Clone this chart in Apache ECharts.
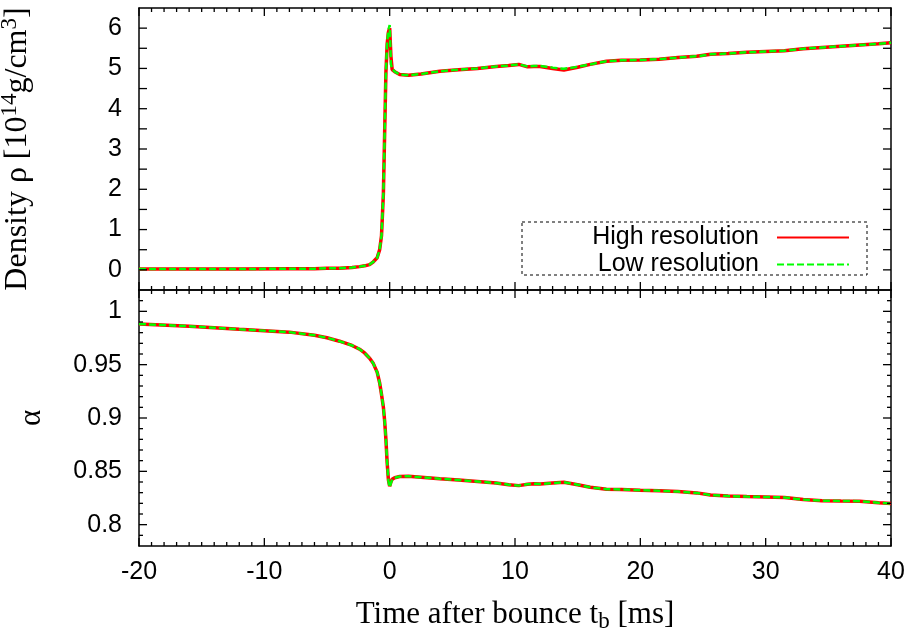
<!DOCTYPE html>
<html>
<head>
<meta charset="utf-8">
<script src="https://cdn.jsdelivr.net/npm/echarts@6/dist/echarts.min.js"></script>
<style>html,body{margin:0;padding:0;background:#fff;}#c{width:913px;height:635px;}</style>
</head>
<body>
<div id="c"></div>
<script>
const time = [-20, -16, -12, -8, -6, -5, -4, -3, -2.4, -2, -1.6, -1.3, -1.0, -0.8, -0.65, -0.5, -0.4, -0.3, -0.2, -0.1, 0, 0.1, 0.2, 0.4, 0.8, 1.5, 2.5, 4, 5.5, 7, 8.5, 9.5, 10.3, 11, 11.5, 12, 13, 13.9, 15, 16, 17.3, 18.5, 20, 21.5, 23, 24.5, 25.6, 27, 28.5, 30, 31.5, 33, 34.5, 36, 37.5, 39, 40];
const densityHigh = [0.02, 0.02, 0.02, 0.03, 0.03, 0.04, 0.04, 0.06, 0.08, 0.1, 0.13, 0.2, 0.3, 0.5, 0.85, 1.9, 3.4, 4.9, 5.6, 5.9, 6.0, 5.3, 4.97, 4.92, 4.85, 4.83, 4.86, 4.93, 4.97, 5.0, 5.05, 5.07, 5.1, 5.04, 5.05, 5.05, 5.0, 4.96, 5.03, 5.1, 5.18, 5.2, 5.21, 5.23, 5.27, 5.3, 5.35, 5.37, 5.4, 5.42, 5.44, 5.49, 5.52, 5.55, 5.58, 5.61, 5.64];
const densityLow = [0.02, 0.02, 0.02, 0.03, 0.03, 0.04, 0.04, 0.06, 0.08, 0.1, 0.13, 0.2, 0.3, 0.5, 0.85, 1.9, 3.4, 4.9, 5.65, 5.95, 6.08, 5.1, 5.0, 4.92, 4.85, 4.83, 4.86, 4.93, 4.97, 5.0, 5.05, 5.07, 5.1, 5.05, 5.06, 5.06, 5.02, 4.99, 5.04, 5.1, 5.18, 5.2, 5.21, 5.23, 5.27, 5.3, 5.35, 5.37, 5.4, 5.42, 5.44, 5.49, 5.52, 5.55, 5.58, 5.61, 5.64];
const alphaHigh = [0.9882, 0.986, 0.9832, 0.9805, 0.9775, 0.9752, 0.972, 0.968, 0.9645, 0.961, 0.956, 0.951, 0.943, 0.933, 0.922, 0.910, 0.897, 0.880, 0.858, 0.842, 0.836, 0.840, 0.8425, 0.844, 0.8452, 0.8455, 0.8445, 0.843, 0.8418, 0.8405, 0.839, 0.8375, 0.8366, 0.8378, 0.8383, 0.8382, 0.839, 0.8397, 0.8375, 0.835, 0.8333, 0.833, 0.8323, 0.8318, 0.831, 0.8298, 0.8278, 0.8268, 0.8263, 0.826, 0.8255, 0.8235, 0.8225, 0.8222, 0.822, 0.8205, 0.8198];
const alphaLow = [0.9882, 0.986, 0.9832, 0.9805, 0.9775, 0.9752, 0.972, 0.968, 0.9645, 0.961, 0.956, 0.951, 0.943, 0.933, 0.922, 0.910, 0.897, 0.880, 0.858, 0.841, 0.835, 0.839, 0.842, 0.844, 0.8452, 0.8455, 0.8445, 0.843, 0.8418, 0.8405, 0.839, 0.8375, 0.8366, 0.8378, 0.8383, 0.8382, 0.839, 0.8397, 0.8375, 0.835, 0.8333, 0.833, 0.8323, 0.8318, 0.831, 0.8298, 0.8278, 0.8268, 0.8263, 0.826, 0.8255, 0.8235, 0.8225, 0.8222, 0.822, 0.8205, 0.8198];
const xMajorTicks = [-20, -10, 0, 10, 20, 30, 40];
const xMinorTicks = [-19, -18, -17, -16, -15, -14, -13, -12, -11, -9, -8, -7, -6, -5, -4, -3, -2, -1, 1, 2, 3, 4, 5, 6, 7, 8, 9, 11, 12, 13, 14, 15, 16, 17, 18, 19, 21, 22, 23, 24, 25, 26, 27, 28, 29, 31, 32, 33, 34, 35, 36, 37, 38, 39];
const densityTicks = [0, 1, 2, 3, 4, 5, 6];
const densityTickMarks = [0, 0.5, 1, 1.5, 2, 2.5, 3, 3.5, 4, 4.5, 5, 5.5, 6];
const alphaTicks = [0.8, 0.85, 0.9, 0.95, 1];
const alphaMinorTicks = [0.79, 0.81, 0.82, 0.83, 0.84, 0.86, 0.87, 0.88, 0.89, 0.91, 0.92, 0.93, 0.94, 0.96, 0.97, 0.98, 0.99, 1.01];
const xRange = [-20, 40];
const densityRange = [-0.5, 6.5];
const alphaRange = [0.78, 1.02];
const seriesNames = ['High resolution', 'Low resolution'];

const SANS = '"Liberation Sans", Arial, sans-serif';
const SERIF = '"Liberation Serif", "Times New Roman", serif';
const pair = arr => time.map((t, i) => [t, arr[i]]);

function xAx(grid, pos, labels) {
  return {
    type: 'value', gridIndex: grid, position: pos, min: xRange[0], max: xRange[1], interval: 10,
    axisLine: { show: true, onZero: false, lineStyle: { color: '#000', width: 1.5 } },
    splitLine: { show: false }, axisTick: { show: false },
    axisLabel: { show: labels, color: '#000', fontFamily: SANS, fontSize: 25, margin: 14 }
  };
}
function yAx(grid, pos, range, labels) {
  return {
    type: 'value', gridIndex: grid, position: pos, min: range[0], max: range[1],
    axisLine: { show: true, onZero: false, lineStyle: { color: '#000', width: 1.5 } },
    splitLine: { show: false }, axisTick: { show: false },
    axisLabel: { show: !!labels, customValues: labels || [], color: '#000', fontFamily: SANS, fontSize: 25, margin: 17 }
  };
}

const yA = yAx(0, 'left', densityRange, densityTicks);
yA.name = '{a|Density ρ [10}{s|14}{a|g/cm}{s|3}{a|]}';
yA.nameLocation = 'middle';
yA.nameGap = 102;
yA.nameRotate = 90;
yA.nameTextStyle = { rich: {
  a: { fontFamily: SERIF, fontSize: 32, color: '#000' },
  s: { fontFamily: SERIF, fontSize: 23, color: '#000', padding: [0, 0, 16, 0] }
} };

const yB = yAx(1, 'left', alphaRange, alphaTicks);
yB.name = 'α';
yB.nameLocation = 'middle';
yB.nameGap = 92;
yB.nameRotate = 90;
yB.nameTextStyle = { fontFamily: SERIF, fontSize: 31, color: '#000' };

const xB = xAx(1, 'bottom', true);
xB.name = '{a|Time after bounce t}{b|b}{a| [ms]}';
xB.nameLocation = 'middle';
xB.nameGap = 50;
xB.nameTextStyle = { rich: {
  a: { fontFamily: SERIF, fontSize: 31, color: '#000' },
  b: { fontFamily: SERIF, fontSize: 23, color: '#000', padding: [14, 0, 0, 0] }
} };

const chart = echarts.init(document.getElementById('c'), null, { renderer: 'canvas' });
chart.setOption({
  backgroundColor: '#fff',
  animation: false,
  grid: [
    { left: 139, right: 22, top: 8, height: 282, outerBoundsMode: 'none' },
    { left: 139, right: 22, top: 290, height: 256, outerBoundsMode: 'none' }
  ],
  xAxis: [xAx(0, 'bottom', false), xAx(0, 'top', false), xAx(1, 'top', false), xB],
  yAxis: [yA, yAx(0, 'right', densityRange, null), yB, yAx(1, 'right', alphaRange, null)],
  legend: {
    data: seriesNames, orient: 'vertical', align: 'right', right: 58, top: 220,
    itemWidth: 72, itemHeight: 12, itemGap: 2,
    itemStyle: { opacity: 0 },
    textStyle: { fontFamily: SANS, fontSize: 25, color: '#000', padding: [0, 13, 0, 0] }
  },
  series: [
    { name: seriesNames[0], type: 'line', xAxisIndex: 0, yAxisIndex: 0, data: pair(densityHigh), symbol: 'none', lineStyle: { color: '#ff0000', width: 3.5 }, itemStyle: { color: '#ff0000' }, z: 3 },
    { name: seriesNames[1], type: 'line', xAxisIndex: 0, yAxisIndex: 0, data: pair(densityLow), symbol: 'none', lineStyle: { color: '#00ff00', width: 2.5, type: [7, 3] }, itemStyle: { color: '#00ff00' }, z: 4 },
    { name: seriesNames[0], type: 'line', xAxisIndex: 3, yAxisIndex: 2, data: pair(alphaHigh), symbol: 'none', lineStyle: { color: '#ff0000', width: 3.5 }, itemStyle: { color: '#ff0000' }, z: 3 },
    { name: seriesNames[1], type: 'line', xAxisIndex: 3, yAxisIndex: 2, data: pair(alphaLow), symbol: 'none', lineStyle: { color: '#00ff00', width: 2.5, type: [7, 3] }, itemStyle: { color: '#00ff00' }, z: 4 }
  ]
});

// Tick marks on all four sides, placed through the chart's own scales (series-based conversion),
// drawn as thin filled rectangles.
const graphics = [{
  type: 'rect', shape: { x: 522, y: 222, width: 345, height: 53 },
  style: { fill: 'none', stroke: '#000', lineWidth: 1, lineDash: [3, 3] }, z: 100, silent: true
}];
function bar(x, y, w, h) {
  return { type: 'rect', shape: { x: x, y: y, width: w, height: h }, style: { fill: '#000' }, z: 100, silent: true };
}
function toPx(si, pt) { return chart.convertToPixel({ seriesIndex: si }, pt); }
function xTicks(si, vals, yr, len) {
  vals.forEach(v => {
    const b = toPx(si, [v, yr[0]]);
    const t = toPx(si, [v, yr[1]]);
    if (b && t) {
      graphics.push(bar(b[0] - 0.65, b[1] - len, 1.3, len));
      graphics.push(bar(t[0] - 0.65, t[1], 1.3, len));
    }
  });
}
function yTicks(si, vals, len) {
  vals.forEach(v => {
    const l = toPx(si, [xRange[0], v]);
    const r = toPx(si, [xRange[1], v]);
    if (l && r) {
      graphics.push(bar(l[0], l[1] - 0.65, len, 1.3));
      graphics.push(bar(r[0] - len, r[1] - 0.65, len, 1.3));
    }
  });
}
try {
  xTicks(0, xMajorTicks, densityRange, 8);
  xTicks(0, xMinorTicks, densityRange, 4);
  yTicks(0, densityTickMarks, 8);
  xTicks(2, xMajorTicks, alphaRange, 8);
  xTicks(2, xMinorTicks, alphaRange, 4);
  yTicks(2, alphaTicks, 8);
  yTicks(2, alphaMinorTicks, 4);
} catch (e) { /* keep chart without ticks */ }
chart.setOption({ graphic: graphics });
</script>
</body>
</html>
